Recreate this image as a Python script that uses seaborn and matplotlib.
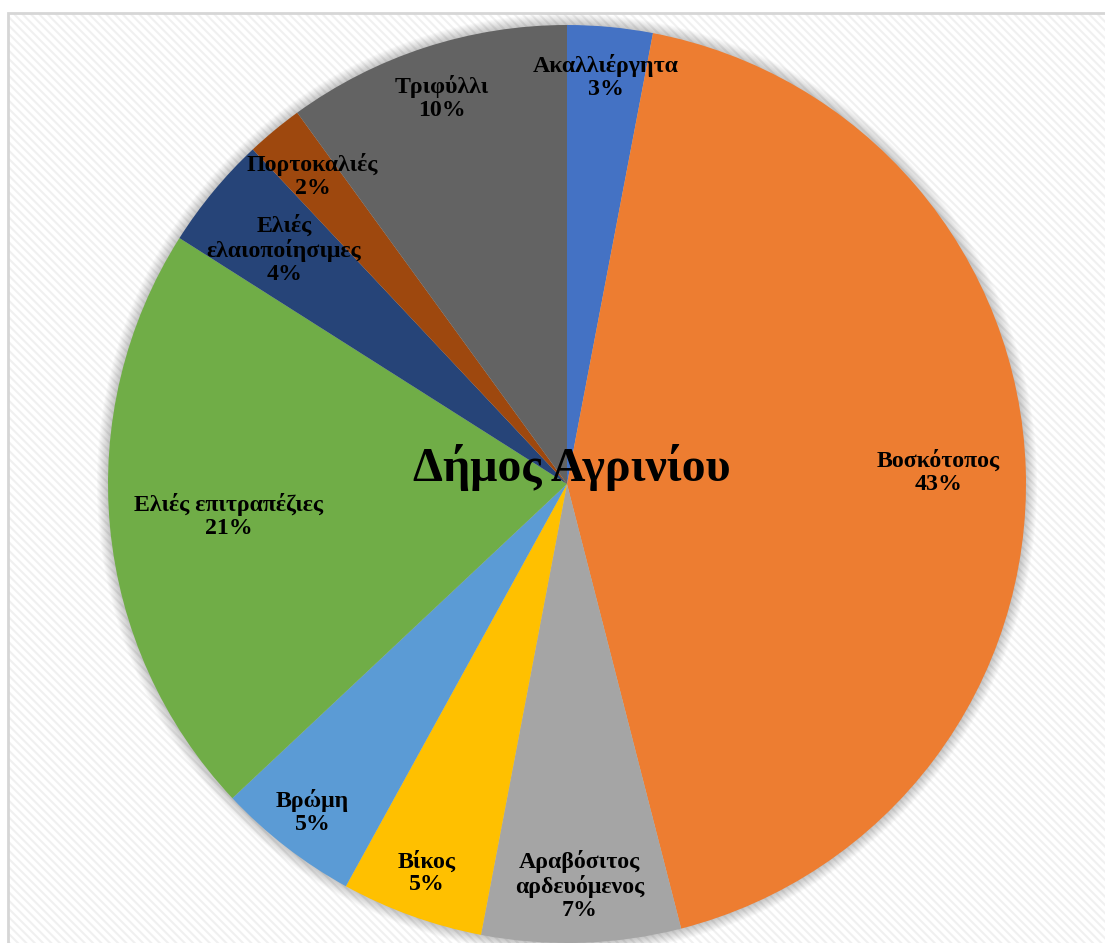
import numpy as np
import matplotlib
matplotlib.use("Agg")
import matplotlib.pyplot as plt
import seaborn as sns
from matplotlib.patches import Rectangle, Circle

# Land-use shares (%) for the municipality of Agrinio
categories = ["Ακαλλιέργητα", "Βοσκότοπος", "Αραβόσιτος αρδευόμενος", "Βίκος", "Βρώμη",
              "Ελιές επιτραπέζιες", "Ελιές ελαιοποίησιμες", "Πορτοκαλιές", "Τριφύλλι"]
shares = [3, 43, 7, 5, 5, 21, 4, 2, 10]
label_text = ["Ακαλλιέργητα", "Βοσκότοπος", "Αραβόσιτος\nαρδευόμενος", "Βίκος", "Βρώμη",
              "Ελιές επιτραπέζιες", "Ελιές\nελαιοποίησιμες", "Πορτοκαλιές", "Τριφύλλι"]
chart_title = "Δήμος Αγρινίου"

# Styling
colors = ["#4472C4", "#ED7D31", "#A5A5A5", "#FFC000", "#5B9BD5",
          "#70AD47", "#264478", "#9E480E", "#636363"]
label_radius = [0.89, 0.81, 0.875, 0.90, 0.905, 0.74, 0.80, 0.87, 0.885]

sns.set_theme(style="white")
plt.rcParams["font.family"] = ["Liberation Serif", "DejaVu Serif"]
plt.rcParams["hatch.linewidth"] = 1.5

W, H = 1105, 943
fig = plt.figure(figsize=(W / 100, H / 100), dpi=100)
fig.patch.set_facecolor("white")

# Chart area: white with fine diagonal stripes and a light grey frame
x0, ytop = 8 / W, (H - 13) / H
fig.patches.append(Rectangle((x0, -0.1), 1.2, ytop + 0.1, transform=fig.transFigure,
                             facecolor="white", edgecolor="#f0f0f0", hatch="\\" * 4,
                             linewidth=0, zorder=-2))
fig.patches.append(Rectangle((x0, -0.1), 1.2, ytop + 0.1, transform=fig.transFigure,
                             facecolor="none", edgecolor="#d6d6d6", linewidth=2, zorder=-1))

ax = fig.add_axes([0, 0, 1, 1])
ax.set_zorder(1)
ax.patch.set_visible(False)

# Soft shadow around the pie
for i in range(12):
    ax.add_patch(Circle((0, 0), 1.0 + i * 0.0022, facecolor="black", alpha=0.018,
                        linewidth=0, zorder=0.5))

wedges, _ = ax.pie(shares, colors=colors, startangle=90, counterclock=False,
                   radius=1.0, center=(0, 0), wedgeprops=dict(linewidth=0, zorder=1))

total = float(sum(shares))
for w, txt, val, rr in zip(wedges, label_text, shares, label_radius):
    mid = np.deg2rad((w.theta1 + w.theta2) / 2)
    ax.text(rr * np.cos(mid), rr * np.sin(mid), f"{txt}\n{round(val / total * 100):.0f}%",
            ha="center", va="center", multialignment="center", fontsize=17.2,
            fontweight="bold", color="black", linespacing=1.11, zorder=3)

ax.text(0.011, 0.035, chart_title, ha="center", va="center", fontsize=34.5,
        fontweight="bold", color="black", zorder=4)

ax.set_aspect("auto")
ax.set_xlim(-567 / 459, (W - 567) / 459)
ax.set_ylim(-(H - 484) / 459, 484 / 459)
ax.axis("off")

fig.savefig("out.png", dpi=100, facecolor="white")
